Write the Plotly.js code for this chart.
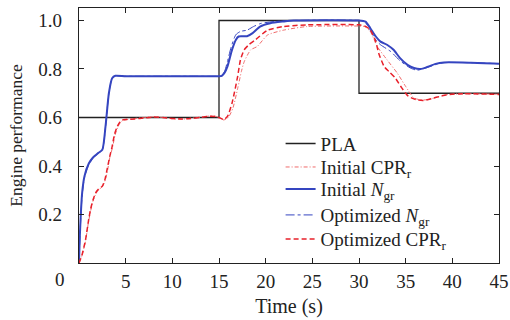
<!DOCTYPE html>
<html>
<head>
<meta charset="utf-8">
<script src="https://cdn.plot.ly/plotly-3.0.1.min.js"></script>
<style>html,body{margin:0;padding:0;background:#fff;}#chart{width:510px;height:320px;}</style>
</head>
<body>
<div id="chart"></div>
<script>
// PLA command
const plaT = [0, 15, 15, 30, 30, 45];
const plaV = [0.6, 0.6, 1.0, 1.0, 0.7, 0.7];

// Initial N_gr
const initNT = [0, 0.1, 0.34, 0.6, 1.05, 1.5, 2.0, 2.5, 2.84, 3.2, 3.55, 3.9, 5, 8, 12, 15, 15.3, 15.6, 15.9, 16.4, 16.8, 17.1, 18.0, 18.6, 19.4, 20.5, 21.9, 23, 30, 30.7, 31.2, 31.8, 32.3, 33.0, 33.7, 34.4, 35.2, 35.9, 36.6, 37.3, 38.2, 39.1, 42, 45];
const initNV = [0, 0.12, 0.29, 0.36, 0.41, 0.435, 0.452, 0.467, 0.563, 0.70, 0.762, 0.772, 0.77, 0.77, 0.77, 0.77, 0.772, 0.785, 0.81, 0.88, 0.92, 0.934, 0.935, 0.948, 0.975, 0.989, 0.996, 1.0, 1.0, 0.995, 0.969, 0.934, 0.913, 0.9, 0.879, 0.845, 0.817, 0.804, 0.8, 0.808, 0.821, 0.827, 0.826, 0.822];

// Optimized N_gr
const optNT = [0, 0.1, 0.34, 0.6, 1.05, 1.5, 2.0, 2.5, 2.84, 3.2, 3.55, 3.9, 5, 8, 12, 15, 15.3, 15.6, 15.9, 16.3, 16.8, 17.3, 18.0, 18.7, 19.5, 21, 23, 30, 30.6, 31.2, 31.8, 32.3, 33.4, 34.4, 35.5, 36.2, 37, 38.2, 39.1, 42, 45];
const optNV = [0, 0.11, 0.28, 0.355, 0.405, 0.432, 0.45, 0.466, 0.56, 0.70, 0.762, 0.772, 0.77, 0.77, 0.77, 0.77, 0.772, 0.79, 0.83, 0.89, 0.941, 0.955, 0.96, 0.975, 0.988, 0.996, 1.0, 1.0, 0.995, 0.96, 0.92, 0.9, 0.872, 0.834, 0.804, 0.795, 0.802, 0.818, 0.826, 0.826, 0.822];

// Initial CPR_r
const initCT = [0, 0.3, 0.7, 1.0, 1.25, 1.5, 1.8, 2.1, 2.5, 2.8, 3.05, 3.3, 3.6, 3.85, 4.15, 4.45, 4.7, 5, 6, 7, 8, 9, 10, 11, 12, 13, 14, 14.6, 15, 15.5, 16, 16.5, 17, 17.4, 17.7, 18.4, 19.1, 20.2, 21.9, 24.4, 30, 30.6, 31.2, 31.95, 33, 34.1, 35, 35.9, 36.9, 38, 39.4, 41.2, 45];
const initCV = [0, 0.028, 0.09, 0.165, 0.215, 0.255, 0.285, 0.302, 0.314, 0.34, 0.38, 0.435, 0.478, 0.525, 0.56, 0.58, 0.588, 0.59, 0.596, 0.6, 0.603, 0.6, 0.595, 0.593, 0.597, 0.601, 0.606, 0.605, 0.6, 0.59, 0.6, 0.64, 0.72, 0.79, 0.83, 0.879, 0.893, 0.94, 0.96, 0.975, 0.977, 0.975, 0.955, 0.893, 0.838, 0.783, 0.728, 0.68, 0.672, 0.68, 0.694, 0.698, 0.696];

// Optimized CPR_r
const optCT = [0, 0.3, 0.7, 1.0, 1.23, 1.5, 1.77, 2.1, 2.48, 2.75, 3.0, 3.3, 3.55, 3.8, 4.1, 4.4, 4.63, 5, 6, 7, 8, 9, 10, 11, 12, 13, 14, 14.6, 15, 15.5, 15.9, 16.4, 17.0, 17.3, 17.7, 18.2, 18.9, 20.2, 21.9, 24.4, 30, 30.6, 31.2, 31.8, 32.1, 32.7, 33.2, 33.9, 34.6, 35.3, 36.2, 36.9, 38, 39.4, 41.2, 45];
const optCV = [0, 0.03, 0.096, 0.17, 0.22, 0.26, 0.288, 0.305, 0.316, 0.34, 0.384, 0.44, 0.48, 0.53, 0.563, 0.582, 0.59, 0.592, 0.594, 0.598, 0.602, 0.6, 0.596, 0.594, 0.596, 0.6, 0.605, 0.604, 0.6, 0.592, 0.604, 0.66, 0.77, 0.838, 0.879, 0.9, 0.92, 0.96, 0.975, 0.982, 0.982, 0.978, 0.962, 0.913, 0.866, 0.81, 0.79, 0.762, 0.721, 0.687, 0.673, 0.67, 0.68, 0.694, 0.698, 0.695];

const xTicks = [0, 5, 10, 15, 20, 25, 30, 35, 40, 45];
const xTickText = ['', '5', '10', '15', '20', '25', '30', '35', '40', '45'];
const yTicks = [0, 0.2, 0.4, 0.6, 0.8, 1.0];
const yTickText = ['', '0.2', '0.4', '0.6', '0.8', '1.0'];

const names = ['PLA', 'Initial CPR<sub>r</sub>', 'Initial <i>N</i><sub>gr</sub>', 'Optimized <i>N</i><sub>gr</sub>', 'Optimized CPR<sub>r</sub>'];

const blue = '#3545c0';
const red = '#e8202a';
const pink = '#f06a6a';

const traces = [
  {x: plaT, y: plaV, name: names[0], legend: 'legend', mode: 'lines', line: {color: '#222', width: 1.3}},
  {x: initCT, y: initCV, name: names[1], legend: 'legend2', mode: 'lines', line: {color: pink, width: 1, dash: '4px,2px,1px,2px', shape: 'spline', smoothing: 0.6}},
  {x: initNT, y: initNV, name: names[2], legend: 'legend3', mode: 'lines', line: {color: blue, width: 2, shape: 'spline', smoothing: 0.6}},
  {x: optNT, y: optNV, name: names[3], legend: 'legend4', mode: 'lines', line: {color: blue, width: 1, dash: 'dashdot', shape: 'spline', smoothing: 0.6}},
  {x: optCT, y: optCV, name: names[4], legend: 'legend5', mode: 'lines', line: {color: red, width: 1.5, dash: '5px,3px', shape: 'spline', smoothing: 0.6}}
];

const fam = 'Liberation Serif, Times New Roman, serif';
const font = {family: fam, size: 19, color: '#222'};
const legFont = {family: fam, size: 19, color: '#222'};

function leg(y) {
  return {x: 0.48, y: y, xanchor: 'left', yanchor: 'middle', bgcolor: 'rgba(0,0,0,0)',
          font: legFont, itemwidth: 30, borderwidth: 0};
}

const layout = {
  width: 510, height: 320,
  margin: {l: 79, r: 11, t: 8, b: 57},
  paper_bgcolor: '#fff', plot_bgcolor: '#fff',
  font: font,
  showlegend: true,
  legend: leg(0.468),
  legend2: leg(0.376),
  legend3: leg(0.290),
  legend4: leg(0.188),
  legend5: leg(0.094),
  xaxis: {range: [0, 45], tickvals: xTicks, ticktext: xTickText, ticks: 'inside', ticklen: 5,
          tickcolor: '#222', showline: true, linecolor: '#222', linewidth: 1.3, mirror: 'ticks',
          showgrid: false, zeroline: false, ticklabelstandoff: 1, tickfont: font,
          title: {text: 'Time (s)', font: {family: fam, size: 20, color: '#222'}, standoff: 8}},
  yaxis: {range: [0, 1.0515], tickvals: yTicks, ticktext: yTickText, ticks: 'inside', ticklen: 5,
          tickcolor: '#222', showline: true, linecolor: '#222', linewidth: 1.3, mirror: 'ticks',
          showgrid: false, zeroline: false, ticklabelstandoff: 12, tickfont: font,
          title: {text: 'Engine performance', font: {family: fam, size: 17.5, color: '#222'}, standoff: 11}},
  annotations: [{text: '0', xref: 'paper', yref: 'paper', x: -0.045, y: 0, yshift: -16,
                 xanchor: 'center', yanchor: 'middle', showarrow: false, font: font}]
};

Plotly.newPlot('chart', traces, layout, {displayModeBar: false, staticPlot: true});
</script>
</body>
</html>
